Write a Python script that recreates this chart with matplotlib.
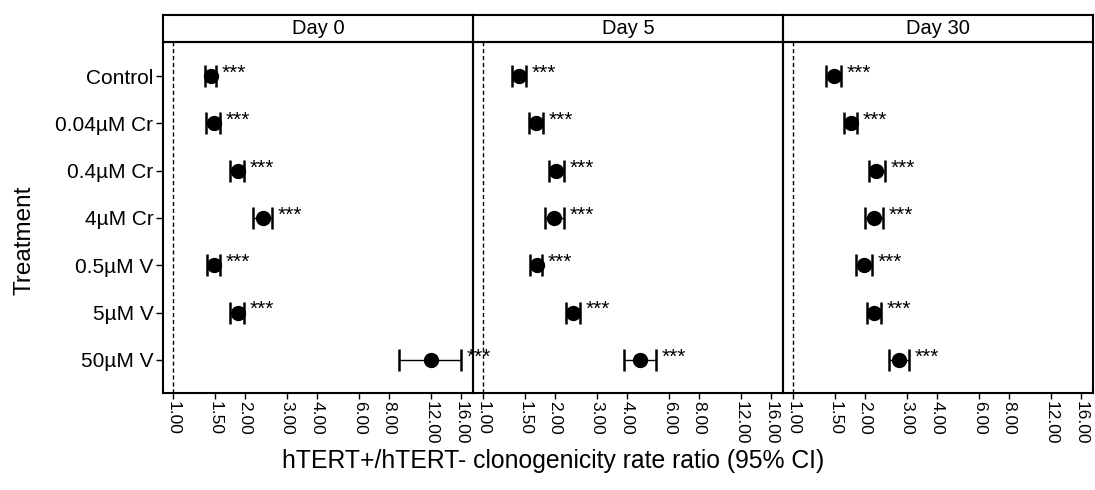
import matplotlib
matplotlib.use("Agg")
from matplotlib import pyplot as plt
from matplotlib.ticker import FixedLocator, NullLocator
import numpy as np

plt.rcParams["font.family"] = ["Liberation Sans", "DejaVu Sans"]

treatments = ["Control", "0.04µM Cr", "0.4µM Cr", "4µM Cr", "0.5µM V", "5µM V", "50µM V"]
days = ["Day 0", "Day 5", "Day 30"]

day0_mean = [1.44, 1.48, 1.87, 2.37, 1.48, 1.87, 11.9]
day0_lo = [1.36, 1.38, 1.74, 2.17, 1.39, 1.73, 8.75]
day0_hi = [1.52, 1.57, 1.99, 2.59, 1.57, 1.98, 15.9]

day5_mean = [1.42, 1.67, 2.03, 1.98, 1.68, 2.38, 4.54]
day5_lo = [1.33, 1.56, 1.89, 1.81, 1.57, 2.23, 3.90]
day5_hi = [1.52, 1.79, 2.18, 2.18, 1.77, 2.55, 5.28]

day30_mean = [1.48, 1.75, 2.23, 2.18, 1.99, 2.18, 2.77]
day30_lo = [1.38, 1.64, 2.08, 2.00, 1.84, 2.04, 2.52]
day30_hi = [1.59, 1.86, 2.42, 2.38, 2.14, 2.34, 3.05]

signif = ["***"] * 7

x_ticks = [1.0, 1.5, 2.0, 3.0, 4.0, 6.0, 8.0, 12.0, 16.0]

means = [day0_mean, day5_mean, day30_mean]
lows = [day0_lo, day5_lo, day30_lo]
highs = [day0_hi, day5_hi, day30_hi]

fig = plt.figure(figsize=(10.95, 4.9), dpi=100)

left, right = 163 / 1095, 1093 / 1095
bottom, top = 1 - 393 / 490, 1 - 42 / 490
strip_h = 27 / 490
w = (right - left) / 3
ypos = np.arange(len(treatments))

for k in range(3):
    ax = fig.add_axes([left + k * w, bottom, w, top - bottom])
    ax.set_facecolor("none")
    m = np.array(means[k])
    lo = np.array(lows[k])
    hi = np.array(highs[k])
    ax.axvline(1.0, color="black", linestyle=(0, (3, 2)), linewidth=1, zorder=1)
    ax.errorbar(
        m,
        ypos,
        xerr=[m - lo, hi - m],
        fmt="o",
        color="black",
        markersize=10,
        capsize=8,
        capthick=1.8,
        elinewidth=1,
        zorder=3,
    )
    for i in range(len(treatments)):
        ax.annotate(
            signif[i],
            xy=(hi[i], ypos[i]),
            xytext=(4, 2),
            textcoords="offset points",
            ha="left",
            va="center",
            fontsize=15,
            annotation_clip=False,
            clip_on=False,
            zorder=4,
        )
    ax.set_xscale("log")
    ax.set_xlim(0.91, 17.9)
    ax.set_ylim(6.7, -0.72)
    ax.xaxis.set_major_locator(FixedLocator(x_ticks))
    ax.xaxis.set_minor_locator(NullLocator())
    ax.set_xticklabels(["%.2f" % t for t in x_ticks], rotation=-90, fontsize=12.5)
    ax.tick_params(axis="x", direction="out", length=4, width=1, pad=2)
    for s in ax.spines.values():
        s.set_linewidth(1.5)
    if k == 0:
        ax.set_yticks(ypos)
        ax.set_yticklabels(treatments, fontsize=15)
        ax.tick_params(axis="y", direction="out", length=5, width=1, pad=2)
    else:
        ax.set_yticks([])

    sax = fig.add_axes([left + k * w, top, w, strip_h])
    sax.set_facecolor("none")
    sax.set_xticks([])
    sax.set_yticks([])
    for s in sax.spines.values():
        s.set_linewidth(1.5)
    sax.text(0.5, 0.5, days[k], ha="center", va="center", fontsize=14.5,
             transform=sax.transAxes)

fig.text(553 / 1095, 1 - 461 / 490, "hTERT+/hTERT- clonogenicity rate ratio (95% CI)",
         ha="center", va="center", fontsize=17.8)
fig.text(25 / 1095, 1 - 240 / 490, "Treatment", ha="center", va="center",
         rotation=90, fontsize=17.5)

plt.savefig("out.png", dpi=100)
